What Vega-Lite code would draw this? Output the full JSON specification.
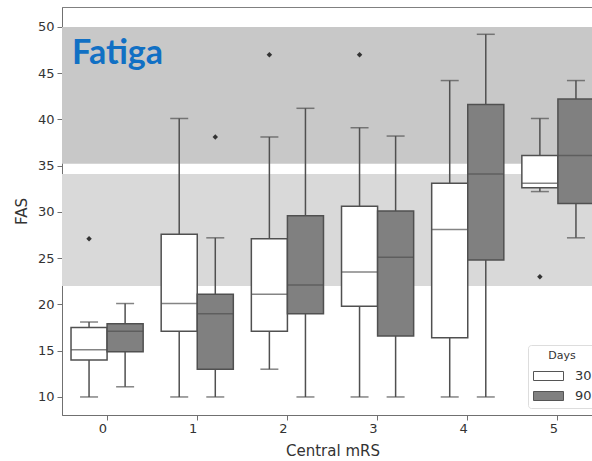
{
  "$schema": "https://vega.github.io/schema/vega-lite/v6.json",
  "autosize": {"type": "none"},
  "padding": {"left": 62, "top": 7, "right": 0, "bottom": 46},
  "width": 530,
  "height": 408,
  "background": "white",
  "config": {
    "view": {"stroke": "#808080", "strokeWidth": 1, "fill": "white"},
    "axis": {"domainColor": "#707070", "tickColor": "#707070", "labelColor": "#333333", "titleColor": "#333333", "labelFont": "DejaVu Sans", "titleFont": "DejaVu Sans", "titleFontWeight": "normal", "grid": false}
  },
  "title": {"text": "Fatiga", "anchor": "start", "orient": "top", "frame": "group", "offset": -57, "dx": 10, "dy": 34, "baseline": "alphabetic", "font": "Lato", "fontSize": 34, "fontWeight": "bold", "color": "#1170c4"},
  "datasets": {
    "bands": [
      {"band": "upper", "lo": 35.2, "hi": 50},
      {"band": "lower", "lo": 22, "hi": 34.1}
    ],
    "boxes": [
      {"mRS": "0", "Days": "30", "lower": 10, "q1": 14, "median": 15.1, "q3": 17.5, "upper": 18.1},
      {"mRS": "0", "Days": "90", "lower": 11.1, "q1": 14.9, "median": 17.1, "q3": 17.9, "upper": 20.1},
      {"mRS": "1", "Days": "30", "lower": 10, "q1": 17.1, "median": 20.1, "q3": 27.6, "upper": 40.1},
      {"mRS": "1", "Days": "90", "lower": 10, "q1": 13, "median": 19, "q3": 21.1, "upper": 27.2},
      {"mRS": "2", "Days": "30", "lower": 13, "q1": 17.1, "median": 21.1, "q3": 27.1, "upper": 38.1},
      {"mRS": "2", "Days": "90", "lower": 10, "q1": 19, "median": 22.1, "q3": 29.6, "upper": 41.2},
      {"mRS": "3", "Days": "30", "lower": 10, "q1": 19.8, "median": 23.5, "q3": 30.6, "upper": 39.1},
      {"mRS": "3", "Days": "90", "lower": 10, "q1": 16.6, "median": 25.1, "q3": 30.1, "upper": 38.2},
      {"mRS": "4", "Days": "30", "lower": 10, "q1": 16.4, "median": 28.1, "q3": 33.1, "upper": 44.2},
      {"mRS": "4", "Days": "90", "lower": 10, "q1": 24.8, "median": 34.1, "q3": 41.6, "upper": 49.2},
      {"mRS": "5", "Days": "30", "lower": 32.2, "q1": 32.6, "median": 33.1, "q3": 36.1, "upper": 40.1},
      {"mRS": "5", "Days": "90", "lower": 27.2, "q1": 30.9, "median": 36.1, "q3": 42.2, "upper": 44.2}
    ],
    "outliers": [
      {"mRS": "0", "Days": "30", "FAS": 27.1},
      {"mRS": "1", "Days": "90", "FAS": 38.1},
      {"mRS": "2", "Days": "30", "FAS": 47},
      {"mRS": "3", "Days": "30", "FAS": 47},
      {"mRS": "5", "Days": "30", "FAS": 23}
    ]
  },
  "layer": [
    {
      "data": {"name": "bands"},
      "mark": {"type": "rect"},
      "encoding": {
        "y": {"field": "lo", "type": "quantitative"},
        "y2": {"field": "hi"},
        "color": {"field": "band", "type": "nominal", "scale": {"domain": ["upper", "lower"], "range": ["#c8c8c8", "#d9d9d9"]}, "legend": null}
      }
    },
    {
      "data": {"name": "boxes"},
      "mark": {"type": "rule", "color": "#505050", "strokeWidth": 1.5},
      "encoding": {
        "x": {"field": "mRS", "type": "nominal"},
        "xOffset": {"field": "Days", "type": "nominal"},
        "y": {"field": "lower", "type": "quantitative"},
        "y2": {"field": "upper"}
      }
    },
    {
      "data": {"name": "boxes"},
      "mark": {"type": "tick", "color": "#505050", "size": 18, "thickness": 1.5, "orient": "horizontal"},
      "encoding": {
        "x": {"field": "mRS", "type": "nominal"},
        "xOffset": {"field": "Days", "type": "nominal"},
        "y": {"field": "lower", "type": "quantitative"}
      }
    },
    {
      "data": {"name": "boxes"},
      "mark": {"type": "tick", "color": "#505050", "size": 18, "thickness": 1.5, "orient": "horizontal"},
      "encoding": {
        "x": {"field": "mRS", "type": "nominal"},
        "xOffset": {"field": "Days", "type": "nominal"},
        "y": {"field": "upper", "type": "quantitative"}
      }
    },
    {
      "data": {"name": "boxes"},
      "mark": {"type": "bar", "stroke": "#505050", "strokeWidth": 1.5},
      "encoding": {
        "x": {"field": "mRS", "type": "nominal", "title": "Central mRS",
              "scale": {"range": [0, 541], "paddingInner": 0.2, "paddingOuter": 0.1},
              "axis": {"labelAngle": 0, "labelFontSize": 13, "titleFontSize": 15, "tickSize": 5, "labelPadding": 8, "titlePadding": 8}},
        "xOffset": {"field": "Days", "type": "nominal", "scale": {"paddingInner": 0, "paddingOuter": 0}},
        "y": {"field": "q1", "type": "quantitative", "title": "FAS",
              "scale": {"domain": [8.05, 52.15], "nice": false, "zero": false},
              "axis": {"values": [10, 15, 20, 25, 30, 35, 40, 45, 50], "labelFontSize": 13, "titleFontSize": 15, "tickSize": 5, "labelPadding": 3, "titlePadding": 8}},
        "y2": {"field": "q3"},
        "fill": {"field": "Days", "type": "nominal", "title": "Days",
                 "scale": {"domain": ["30", "90"], "range": ["#ffffff", "#808080"]},
                 "legend": {"orient": "none", "legendX": 466, "legendY": 338, "direction": "vertical",
                            "fillColor": "#ffffff", "strokeColor": "#dddddd", "cornerRadius": 3, "padding": 5,
                            "titleFont": "DejaVu Sans", "titleFontSize": 11, "titleFontWeight": "normal", "titleColor": "#333333", "titleAnchor": "middle", "titlePadding": 7,
                            "labelFont": "DejaVu Sans", "labelFontSize": 13, "labelColor": "#333333", "labelOffset": 26,
                            "symbolType": "M-1,-0.6H3V0.6H-1Z", "symbolSize": 225, "symbolStrokeColor": "#555555", "symbolStrokeWidth": 1, "rowPadding": 5}}
      }
    },
    {
      "data": {"name": "boxes"},
      "mark": {"type": "tick", "color": "#505050", "size": 36, "thickness": 1.5, "orient": "horizontal"},
      "encoding": {
        "x": {"field": "mRS", "type": "nominal"},
        "xOffset": {"field": "Days", "type": "nominal"},
        "y": {"field": "median", "type": "quantitative"}
      }
    },
    {
      "data": {"name": "outliers"},
      "mark": {"type": "point", "shape": "diamond", "filled": true, "color": "#333333", "size": 30, "opacity": 1},
      "encoding": {
        "x": {"field": "mRS", "type": "nominal"},
        "xOffset": {"field": "Days", "type": "nominal"},
        "y": {"field": "FAS", "type": "quantitative"}
      }
    }
  ]
}
